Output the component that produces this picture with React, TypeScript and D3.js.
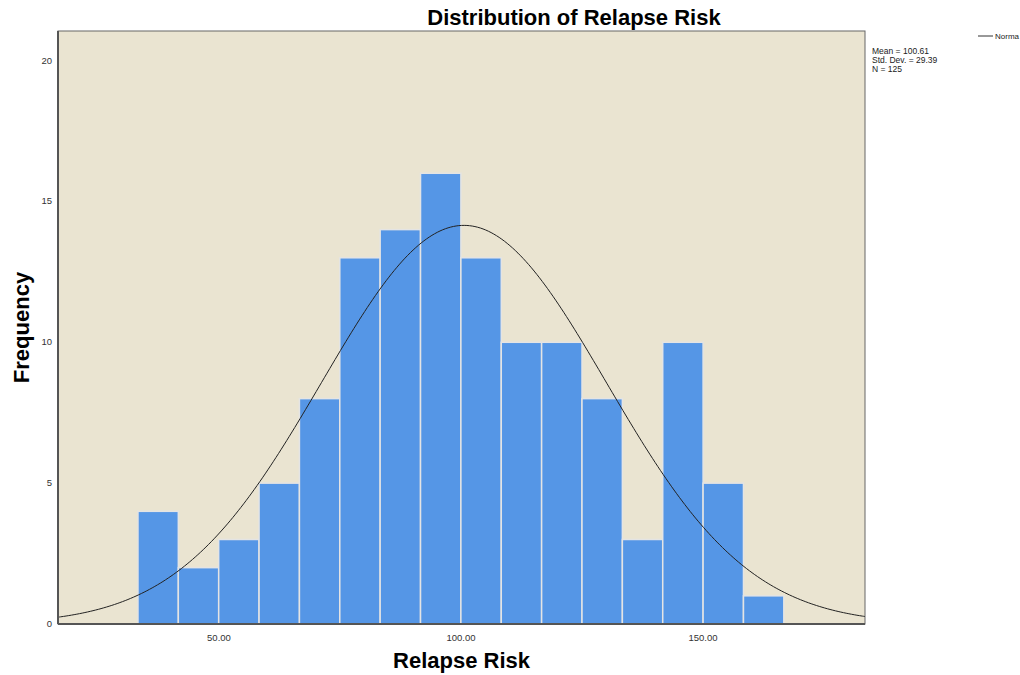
import React from "react";
import * as d3 from "d3";

// histogram bins (Relapse Risk) and counts
const binStart = 33.26;
const binWidth = 8.34;
const counts = [4, 2, 3, 5, 8, 13, 14, 16, 13, 10, 10, 8, 3, 10, 5, 1];
const xTicks = [50, 100, 150];
const yTicks = [0, 5, 10, 15, 20];
const mean = 100.61;
const stdDev = 29.39;
const n = 125;

const W = 1020;
const H = 675;
const margin = { top: 31, right: 155, bottom: 51, left: 58 };

export default function App() {
  const innerW = W - margin.left - margin.right;
  const innerH = H - margin.top - margin.bottom;

  const x = d3.scaleLinear().domain([16.74, 183.47]).range([0, innerW]);
  const y = d3.scaleLinear().domain([0, 21.05]).range([innerH, 0]);

  const bins = counts.map((c, i) => ({
    x0: binStart + i * binWidth,
    x1: binStart + (i + 1) * binWidth,
    c,
  }));

  // fitted normal curve scaled to counts
  const [d0, d1] = x.domain();
  const curvePts = d3.range(0, 301).map((i) => {
    const v = d0 + ((d1 - d0) * i) / 300;
    const z = (v - mean) / stdDev;
    const dens = (n * binWidth * Math.exp(-0.5 * z * z)) / (stdDev * Math.sqrt(2 * Math.PI));
    return [v, dens] as [number, number];
  });
  const curve = d3
    .line<[number, number]>()
    .x((d) => x(d[0]))
    .y((d) => y(d[1]))
    .curve(d3.curveBasis);

  const font = "Arial, 'Liberation Sans', sans-serif";

  return (
    <svg
      width={W}
      height={H}
      style={{ position: "absolute", left: 0, top: 0, background: "#fff" }}
      fontFamily={font}
    >
      <text x={574} y={25} textAnchor="middle" fontSize={22} fontWeight="bold" fill="#000">
        Distribution of Relapse Risk
      </text>

      <g transform={`translate(${margin.left},${margin.top})`}>
        <rect x={0} y={0} width={innerW} height={innerH} fill="#EAE4D1" stroke="#666" strokeWidth={1} />
        {bins.map((b, i) => (
          <rect
            key={i}
            x={x(b.x0)}
            y={y(b.c)}
            width={x(b.x1) - x(b.x0)}
            height={innerH - y(b.c)}
            fill="#5596E6"
            stroke="#E4E4E4"
            strokeWidth={1.5}
          />
        ))}
        <clipPath id="plotClip">
          <rect x={0} y={0} width={innerW} height={innerH} />
        </clipPath>
        <path d={curve(curvePts) || ""} fill="none" stroke="#222" strokeWidth={1} clipPath="url(#plotClip)" />
        <line x1={0} x2={0} y1={0} y2={innerH} stroke="#555" strokeWidth={2} />
        <line x1={0} x2={innerW} y1={innerH} y2={innerH} stroke="#555" strokeWidth={2} />

        {yTicks.map((t) => (
          <text key={t} x={-6} y={y(t) + 3} textAnchor="end" fontSize={9.5} fill="#333">
            {t}
          </text>
        ))}
        {xTicks.map((t) => (
          <text key={t} x={x(t)} y={innerH + 17} textAnchor="middle" fontSize={9.5} fill="#333">
            {t.toFixed(2)}
          </text>
        ))}
      </g>

      <text
        transform={`translate(29,${margin.top + innerH / 2}) rotate(-90)`}
        textAnchor="middle"
        fontSize={22}
        fontWeight="bold"
        fill="#000"
      >
        Frequency
      </text>
      <text x={margin.left + innerW / 2} y={668} textAnchor="middle" fontSize={22} fontWeight="bold" fill="#000">
        Relapse Risk
      </text>

      <g fontSize={8.5} fill="#222">
        <text x={872} y={54}>Mean = {mean.toFixed(2)}</text>
        <text x={872} y={63}>Std. Dev. = {stdDev.toFixed(2)}</text>
        <text x={872} y={72}>N = {n}</text>
      </g>
      <line x1={978} x2={993} y1={36} y2={36} stroke="#333" strokeWidth={1} />
      <text x={995} y={39} fontSize={8} fill="#222">
        Norma
      </text>
    </svg>
  );
}
